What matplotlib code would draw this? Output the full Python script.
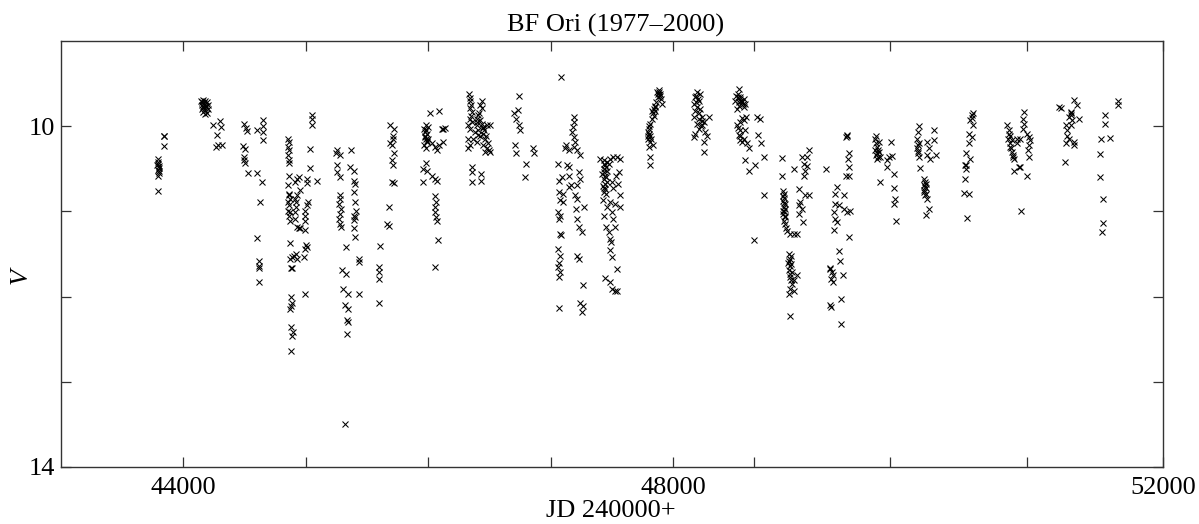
import matplotlib
matplotlib.use("Agg")
import matplotlib.pyplot as plt
import numpy as np

plt.rcParams['font.family'] = ['Liberation Serif', 'DejaVu Serif']
plt.rcParams['mathtext.fontset'] = 'stix'

# ---- data: (JD-2400000, V) per observing season ----
s01 = [(43848,10.11),(43846,10.12),(43848,10.23),(43794,10.38),(43799,10.42),(43791,10.45),
       (43804,10.47),(43794,10.51),(43807,10.53),(43794,10.58),(43802,10.55),(43799,10.76),
       (43796,10.44),(43800,10.49)]
s02 = [(44145,9.71),(44161,9.69),(44180,9.70),(44194,9.72),(44153,9.75),(44172,9.75),(44207,9.75),
       (44166,9.77),(44188,9.78),(44153,9.80),(44202,9.80),(44180,9.81),(44166,9.83),(44194,9.84),
       (44183,9.86),(44175,9.73),(44158,9.72),(44190,9.76),
       (44248,9.99),(44303,9.94),(44308,10.01),(44275,10.10),(44270,10.24),(44289,10.22),(44316,10.22)]
s03 = [(44501,9.97),(44512,10.02),(44526,10.06),(44493,10.23),(44509,10.27),(44501,10.36),(44499,10.40),
       (44507,10.43),(44534,10.55),(44600,10.05),(44600,10.55),
       (44651,9.93),(44649,10.00),(44651,10.07),(44649,10.16),(44643,10.66),(44630,10.89),(44602,11.31),
       (44624,11.58),(44622,11.64),(44624,11.67),(44624,11.83)]
s04 = [(44861,10.15),(44869,10.19),(44861,10.24),(44866,10.28),(44861,10.34),(44869,10.40),(44864,10.43),
       (44866,10.58),(44861,10.69),(44869,10.79),(44866,10.81),(44875,10.85),(44861,10.89),(44869,10.93),
       (44861,10.99),(44875,11.01),(44866,11.05),(44875,11.11),(44875,11.37),(44888,11.54),(44875,11.56),
       (44888,11.67),(44880,11.66),(44883,12.01),(44888,12.07),(44880,12.11),(44875,12.15),(44883,12.36),
       (44894,12.42),(44888,12.46),(44883,12.64),
       (44915,10.65),(44951,10.60),(44929,10.62),(44956,10.75),(44929,10.81),(44915,10.85),(44924,10.89),
       (44921,10.95),(44915,11.01),(44915,11.09),(44929,11.18),(44943,11.20),(44956,11.20),(44924,11.50),
       (44910,11.52),(44929,11.56),
       (45052,9.87),(45052,9.91),(45052,9.99),(45038,10.27),(45038,10.49),(45016,10.62),(45016,10.67),
       (45092,10.64),(45024,10.89),(45011,10.93),(44997,10.99),(44997,11.05),(44997,11.11),(44997,11.22),
       (45005,11.40),(44997,11.44),(45011,11.42),(44989,11.54),(44997,11.97)]
s05 = [(45261,10.28),(45250,10.32),(45278,10.34),(45261,10.45),(45256,10.54),(45283,10.60),(45278,10.81),
       (45283,10.85),(45272,10.91),(45288,10.97),(45278,11.03),(45272,11.09),(45283,11.15),(45288,11.18),
       (45332,11.42),(45297,11.69),(45332,11.73),(45310,11.91),(45351,11.97),(45324,12.10),(45351,12.14),
       (45337,12.28),(45343,12.30),(45337,12.44),(45324,13.50),
       (45373,10.28),(45365,10.48),(45392,10.52),(45397,10.64),(45405,10.68),(45397,10.77),(45400,10.89),
       (45414,10.99),(45397,11.05),(45405,11.06),(45392,11.10),(45397,11.20),(45405,11.30),(45433,11.56),
       (45433,11.59),(45433,11.97)]
s06 = [(45691,9.99),(45724,10.03),(45713,10.11),(45718,10.15),(45691,10.20),(45705,10.22),(45724,10.32),
       (45710,10.40),(45718,10.46),(45705,10.65),(45724,10.67),(45678,10.95),(45664,11.15),(45678,11.17),
       (45610,11.41),(45604,11.65),(45604,11.71),(45596,11.79),(45596,12.07)]
s07 = [(46018,9.84),(46091,9.82),(45985,9.99),(46004,10.01),(45977,10.07),(45972,10.11),(45983,10.15),
       (45991,10.19),(45969,10.22),(45985,10.26),(46004,10.15),(46031,10.20),(46059,10.24),(46086,10.22),
       (46121,10.18),(46121,10.03),(46140,10.02),(46072,10.28),(45985,10.43),(45963,10.50),(45991,10.52),
       (46031,10.58),(45958,10.66),(46059,10.62),(46072,10.64),(46059,10.82),(46064,10.89),(46059,10.95),
       (46059,11.01),(46064,11.07),(46072,11.11),(46078,11.34),(46059,11.65),
       (45980,10.05),(45975,10.13),(45988,10.09),(45995,10.17),(45970,10.03),(46113,10.03)]
s08 = [(46336,9.62),(46344,9.67),(46339,9.71),(46349,9.75),(46344,9.79),(46358,9.83),(46330,9.99),
       (46344,10.03),(46358,9.95),(46325,10.15),(46339,10.22),(46330,10.26),
       (46439,9.71),(46426,9.75),(46439,9.79),(46412,9.87),(46398,9.91),(46426,9.93),(46439,9.97),
       (46398,9.99),(46453,10.01),(46480,9.99),(46507,9.99),(46412,10.05),(46385,10.07),(46453,10.09),
       (46426,10.11),(46466,10.15),(46453,10.22),(46480,10.26),(46466,10.30),(46507,10.30),(46371,10.15),
       (46398,10.19),(46494,10.28),
       (46363,10.48),(46363,10.54),(46363,10.65),(46431,10.56),(46431,10.64),
       (46400,9.95),(46420,9.85),(46445,10.02),(46460,10.05),(46470,10.12),(46490,10.20),(46410,10.10),
       (46350,9.88),(46340,9.92)]
s09 = [(46739,9.64),(46731,9.81),(46703,9.85),(46720,9.91),(46739,9.99),(46752,10.05),(46711,10.22),
       (46720,10.32),(46801,10.44),(46793,10.60),(46861,10.26),(46869,10.32)]
s10 = [(47084,9.42),
       (47193,9.89),(47188,9.95),(47182,10.01),(47174,10.07),(47188,10.13),(47201,10.18),(47193,10.24),
       (47128,10.22),(47120,10.26),(47147,10.28),(47215,10.28),(47242,10.34),
       (47065,10.44),(47133,10.45),(47147,10.48),(47073,10.64),(47093,10.60),(47073,10.77),(47106,10.79),
       (47079,10.87),(47101,10.89),(47065,11.01),(47079,11.05),(47073,11.09),(47079,11.26),(47084,11.28),
       (47065,11.44),(47079,11.52),(47073,11.60),(47065,11.65),(47079,11.71),(47073,11.77),(47073,12.13),
       (47155,10.58),(47166,10.69),(47155,10.71),(47229,10.54),(47237,10.62),(47215,10.69),(47201,10.81),
       (47220,10.85),(47210,10.97),(47275,10.95),(47220,11.09),(47229,11.18),(47256,11.24),(47215,11.52),
       (47229,11.56),(47264,11.86),(47242,12.07),(47264,12.11),(47256,12.18)]
s11 = [(47406,10.38),(47433,10.40),(47460,10.42),(47446,10.46),(47433,10.50),(47460,10.52),(47419,10.56),
       (47446,10.58),(47433,10.62),(47460,10.66),(47427,10.70),(47446,10.74),(47433,10.77),(47455,10.79),
       (47474,10.44),(47487,10.38),(47514,10.36),(47542,10.36),(47569,10.38),
       (47563,10.54),(47536,10.58),(47501,10.66),(47555,10.68),(47514,10.72),(47569,10.81),(47427,10.87),
       (47487,10.89),(47528,10.91),(47569,10.95),(47460,10.95),(47501,11.01),(47433,11.05),(47514,11.09),
       (47455,11.18),(47528,11.18),(47474,11.24),(47487,11.32),(47493,11.36),(47487,11.45),(47501,11.54),
       (47542,11.68),(47446,11.78),(47487,11.83),(47501,11.91),(47528,11.94),(47542,11.93),
       (47440,10.44),(47450,10.48),(47438,10.54),(47452,10.60),(47443,10.68),(47438,10.72)]
s12 = [(47882,9.58),(47891,9.62),(47874,9.66),(47901,9.68),(47910,9.74),(47855,9.76),(47847,9.80),
       (47836,9.84),(47842,9.88),(47828,9.92),(47814,9.97),(47801,10.03),(47793,10.07),(47809,10.11),
       (47793,10.15),(47814,10.19),(47836,10.22),(47801,10.24),(47809,10.36),(47809,10.46),
       (47869,9.60),(47896,9.64),(47855,9.82),(47828,9.82),(47801,10.09),(47820,10.15),
       (47886,9.60),(47878,9.62),(47860,9.72),(47850,9.78),(47805,10.00),(47798,10.12)]
s13 = [(48195,9.60),(48223,9.62),(48182,9.66),(48209,9.70),(48168,9.74),(48195,9.78),(48182,9.82),
       (48223,9.80),(48168,9.89),(48209,9.91),(48236,9.89),(48291,9.89),(48195,9.97),(48236,9.99),
       (48250,9.95),(48209,10.03),(48263,10.07),(48182,10.09),(48168,10.13),(48277,10.11),(48255,10.19),
       (48255,10.30),(48190,9.64),(48200,9.68),(48185,9.72),(48215,9.85),(48240,9.94),(48228,10.00)]
s14 = [(48536,9.56),(48517,9.64),(48549,9.66),(48577,9.68),(48508,9.70),(48563,9.72),(48590,9.74),
       (48536,9.76),(48577,9.78),(48522,9.80),(48598,9.89),(48577,9.93),(48549,9.95),(48522,9.99),
       (48544,10.05),(48590,10.05),(48549,10.11),(48544,10.16),(48577,10.15),(48563,10.19),(48604,10.20),
       (48617,10.26),(48590,10.40),(48617,10.52),(48672,10.46),
       (48685,9.89),(48707,9.91),(48691,10.10),(48718,10.20),(48740,10.36),(48740,10.81),(48658,11.33),
       (48530,9.62),(48545,9.68),(48555,9.70),(48540,9.72),(48570,9.74),(48528,9.66),(48560,9.90),
       (48530,10.02),(48538,10.10)]
s15 = [(48889,10.37),(48889,10.58),(48985,10.50),(49053,10.36),(49094,10.36),(49107,10.28),(49066,10.44),
       (49094,10.47),(49080,10.53),(49066,10.58),(49026,10.74),(49080,10.81),(49107,10.81),(49039,10.89),
       (49026,10.93),(49053,10.97),(49026,11.03),(49061,11.12),
       (48898,10.76),(48903,10.80),(48909,10.84),(48898,10.88),(48917,10.91),(48903,10.95),(48909,10.99),
       (48898,11.03),(48917,11.07),(48903,11.11),(48917,11.15),(48925,11.19),(48930,11.23),(48958,11.26),
       (49012,11.26),(48990,11.27),
       (48944,11.50),(48963,11.52),(48952,11.56),(48936,11.60),(48958,11.64),(48944,11.69),(48971,11.71),
       (49012,11.75),(48958,11.77),(48990,11.81),(48971,11.85),(48952,11.91),(48990,11.93),(48944,11.97),
       (48958,12.23),
       (48900,10.82),(48905,10.90),(48912,10.97),(48900,11.00),(48915,11.05),(48950,11.58),(48960,11.62),
       (48955,11.73),(48965,11.80)]
s16 = [(49252,10.50),(49279,11.67),
       (49421,10.11),(49415,10.13),(49434,10.32),(49426,10.38),(49434,10.48),(49415,10.58),(49434,10.58),
       (49339,10.71),(49325,10.79),(49394,10.81),(49325,10.91),(49353,10.93),(49312,11.01),(49394,10.97),
       (49421,11.01),(49448,10.99),(49325,11.09),(49339,11.13),(49312,11.22),(49434,11.30),
       (49353,11.46),(49361,11.58),(49388,11.75),(49285,11.68),(49298,11.71),(49306,11.75),(49290,11.79),
       (49306,11.83),(49372,12.03),(49285,12.10),(49290,12.12),(49372,12.32),(49421,10.10)]
s17 = [(49660,10.11),(49652,10.15),(49679,10.19),(49666,10.25),(49652,10.28),(49679,10.30),(49660,10.34),
       (49688,10.36),(49666,10.39),(49780,10.19),(49747,10.40),(49788,10.35),(49761,10.36),(49747,10.48),
       (49807,10.56),(49688,10.66),(49807,10.73),(49815,10.85),(49807,10.91),(49824,11.11),
       (49658,10.20),(49670,10.28),(49662,10.32),(49675,10.36)]
s18 = [(50006,10.00),(49998,10.07),(49992,10.15),(50006,10.20),(49992,10.26),(49998,10.32),(50006,10.36),
       (50074,10.18),(50088,10.26),(50074,10.34),(50101,10.38),(50134,10.05),(50128,10.16),(50150,10.34),
       (50020,10.49),
       (50047,10.62),(50060,10.66),(50047,10.69),(50069,10.73),(50052,10.77),(50060,10.81),(50074,10.85),
       (50088,10.97),(50069,11.04),
       (50000,10.22),(50003,10.29),(50055,10.71),(50065,10.79),(50050,10.75),(50062,10.68)]
s19 = [(50442,9.87),(50428,9.93),(50450,9.99),(50414,10.09),(50442,10.13),(50414,10.20),(50395,10.32),
       (50428,10.38),(50387,10.46),(50395,10.50),(50387,10.62),(50379,10.78),(50414,10.79),(50401,11.08),
       (50445,9.85),(50440,9.90),(50395,10.45)]
s20 = [(50727,9.99),(50741,10.05),(50755,10.11),(50733,10.15),(50768,10.16),(50749,10.20),(50809,10.20),
       (50760,10.26),(50776,10.34),(50782,10.38),(50782,10.52),(50831,10.48),
       (50864,9.83),(50858,9.91),(50869,9.97),(50858,10.03),(50891,10.09),(50904,10.13),(50913,10.16),
       (50904,10.22),(50896,10.28),(50904,10.36),(50891,10.58),(50842,11.00),(50823,10.48),(50836,10.15),
       (50809,10.15),(50741,10.09),(50755,10.24),(50768,10.30),(50776,10.36)]
s21 = [(51149,9.78),(51171,9.79),(51277,9.69),(51294,9.75),(51245,9.85),(51231,9.89),(51258,9.93),
       (51313,9.91),(51212,9.99),(51250,9.99),(51217,10.05),(51217,10.11),(51231,10.15),(51212,10.20),
       (51277,10.19),(51277,10.22),(51204,10.42),(51245,9.83),(51250,9.87)]
s22 = [(51530,9.87),(51530,9.97),(51495,10.15),(51566,10.14),(51484,10.33),(51484,10.60),(51511,10.85),
       (51509,11.14),(51503,11.24),(51631,9.71),(51631,9.75)]

seasons = [s01, s02, s03, s04, s05, s06, s07, s08, s09, s10, s11,
           s12, s13, s14, s15, s16, s17, s18, s19, s20, s21, s22]

x_major = [44000, 48000, 52000]
x_major_labels = ["44000", "48000", "52000"]
x_minor = [45000, 46000, 47000, 48660, 49775, 50890]
y_major = [10, 14]
y_minor = [11, 12, 13]

title = "BF Ori (1977\u20132000)"
xlabel = "JD 240000+"
ylabel = "V"

# ---- figure ----
W, H = 1199, 524
fig = plt.figure(figsize=(W / 100, H / 100), dpi=100)
L, R, T, B = 60.5, 1163, 41, 467
ax = fig.add_axes([L / W, 1 - B / H, (R - L) / W, (B - T) / H])

pts = np.array([p for s in seasons for p in s], dtype=float)
ax.plot(pts[:, 0], pts[:, 1], linestyle='none', marker='x', markersize=4.2,
        markeredgewidth=0.75, color='black')

ax.set_xlim(43000, 52000)
ax.set_ylim(14, 9)

ax.set_xticks(x_major)
ax.set_xticklabels(x_major_labels)
ax.set_xticks(x_minor, minor=True)
ax.set_yticks(y_major)
ax.set_yticklabels([str(v) for v in y_major])
ax.set_yticks(y_minor, minor=True)

fs = 19
ax.tick_params(which='both', direction='in', top=True, right=True,
               length=7.2, width=0.9, color='#333333')
ax.tick_params(axis='x', which='major', labelsize=fs, pad=7)
ax.tick_params(axis='y', which='major', labelsize=fs, pad=4)
for sp in ax.spines.values():
    sp.set_linewidth(1.0)
    sp.set_color('#333333')

fig.text(616 / W, 1 - 32 / H, title, ha='center', va='baseline', fontsize=fs)
fig.text(611 / W, 1 - 511 / H, xlabel, ha='center', va='center', fontsize=fs)
fig.text(21 / W, 1 - 276 / H, ylabel, ha='center', va='center', fontsize=fs,
         rotation=90, style='italic')

fig.savefig("out.png", dpi=100)
